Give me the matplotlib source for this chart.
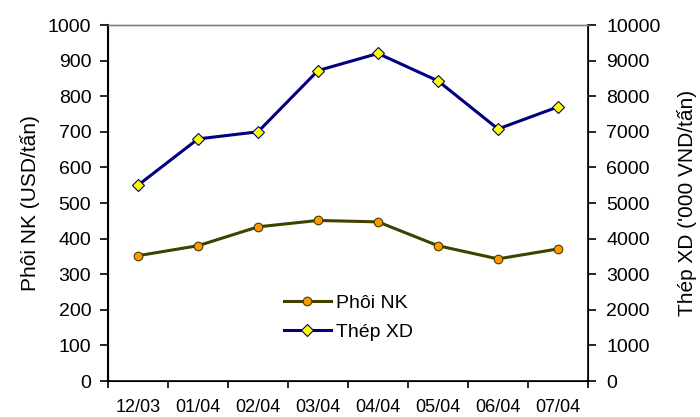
import matplotlib
matplotlib.use('Agg')
import matplotlib.pyplot as plt
import numpy as np

months = ['12/03', '01/04', '02/04', '03/04', '04/04', '05/04', '06/04', '07/04']
phoi_nk = [352, 380, 433, 451, 447, 380, 343, 371]
thep_xd = [5500, 6800, 7000, 8720, 9200, 8430, 7080, 7700]

plt.rcParams['font.family'] = ['Liberation Sans', 'DejaVu Sans']
plt.rcParams['font.size'] = 14

dpi = 100
fig = plt.figure(dpi=dpi, figsize=(700 / dpi, 417 / dpi))
ax = fig.add_axes([108 / 700, 1 - 381 / 417, 480 / 700, 356 / 417])
ax2 = ax.twinx()

xs = np.arange(len(months))
l1, = ax.plot(xs, phoi_nk, color='#404000', lw=2.2, marker='o', ms=6.2,
              mfc='#FF9900', mec='#404000', mew=0.8, label='Phôi NK')
l2, = ax2.plot(xs, thep_xd, color='#000080', lw=2.2, marker='D', ms=6,
               mfc='#FFFF00', mec='#000080', mew=0.8, label='Thép XD')

ax.set_xlim(-0.5, len(months) - 0.5)
ax.set_ylim(0, 1000)
ax2.set_ylim(0, 10000)
ax.set_yticks(range(0, 1001, 100))
ax2.set_yticks(range(0, 10001, 1000))

ax.set_xticks(np.arange(-0.5, len(months), 1))
ax.set_xticklabels([])
ax.set_xticks(xs, minor=True)
ax.set_xticklabels(months, minor=True, fontsize=13)
ax.tick_params(axis='x', which='major', direction='out', length=5, width=1.2)
ax.tick_params(axis='x', which='minor', length=0, pad=13)
ax.tick_params(axis='y', direction='out', length=6, width=1.2, pad=6)
ax2.tick_params(axis='y', direction='out', length=6, width=1.2, pad=7)

for a in (ax, ax2):
    a.spines['top'].set_color('#808080')
    a.spines['top'].set_linewidth(1)
ax.spines['left'].set_linewidth(1.5)
ax.spines['bottom'].set_linewidth(1.2)
ax2.spines['right'].set_linewidth(1.2)

ax.set_ylabel('Phôi NK (USD/tấn)', fontsize=15, labelpad=6)
ax2.set_ylabel("Thép XD ('000 VND/tấn)", fontsize=15, rotation=90, labelpad=12)

ax.legend([l1, l2], ['Phôi NK', 'Thép XD'], frameon=False,
          loc='center left', bbox_to_anchor=(0.33, 0.178),
          handlelength=2.4, labelspacing=0.6, handletextpad=0.3)

fig.savefig('out.png', dpi=dpi)
